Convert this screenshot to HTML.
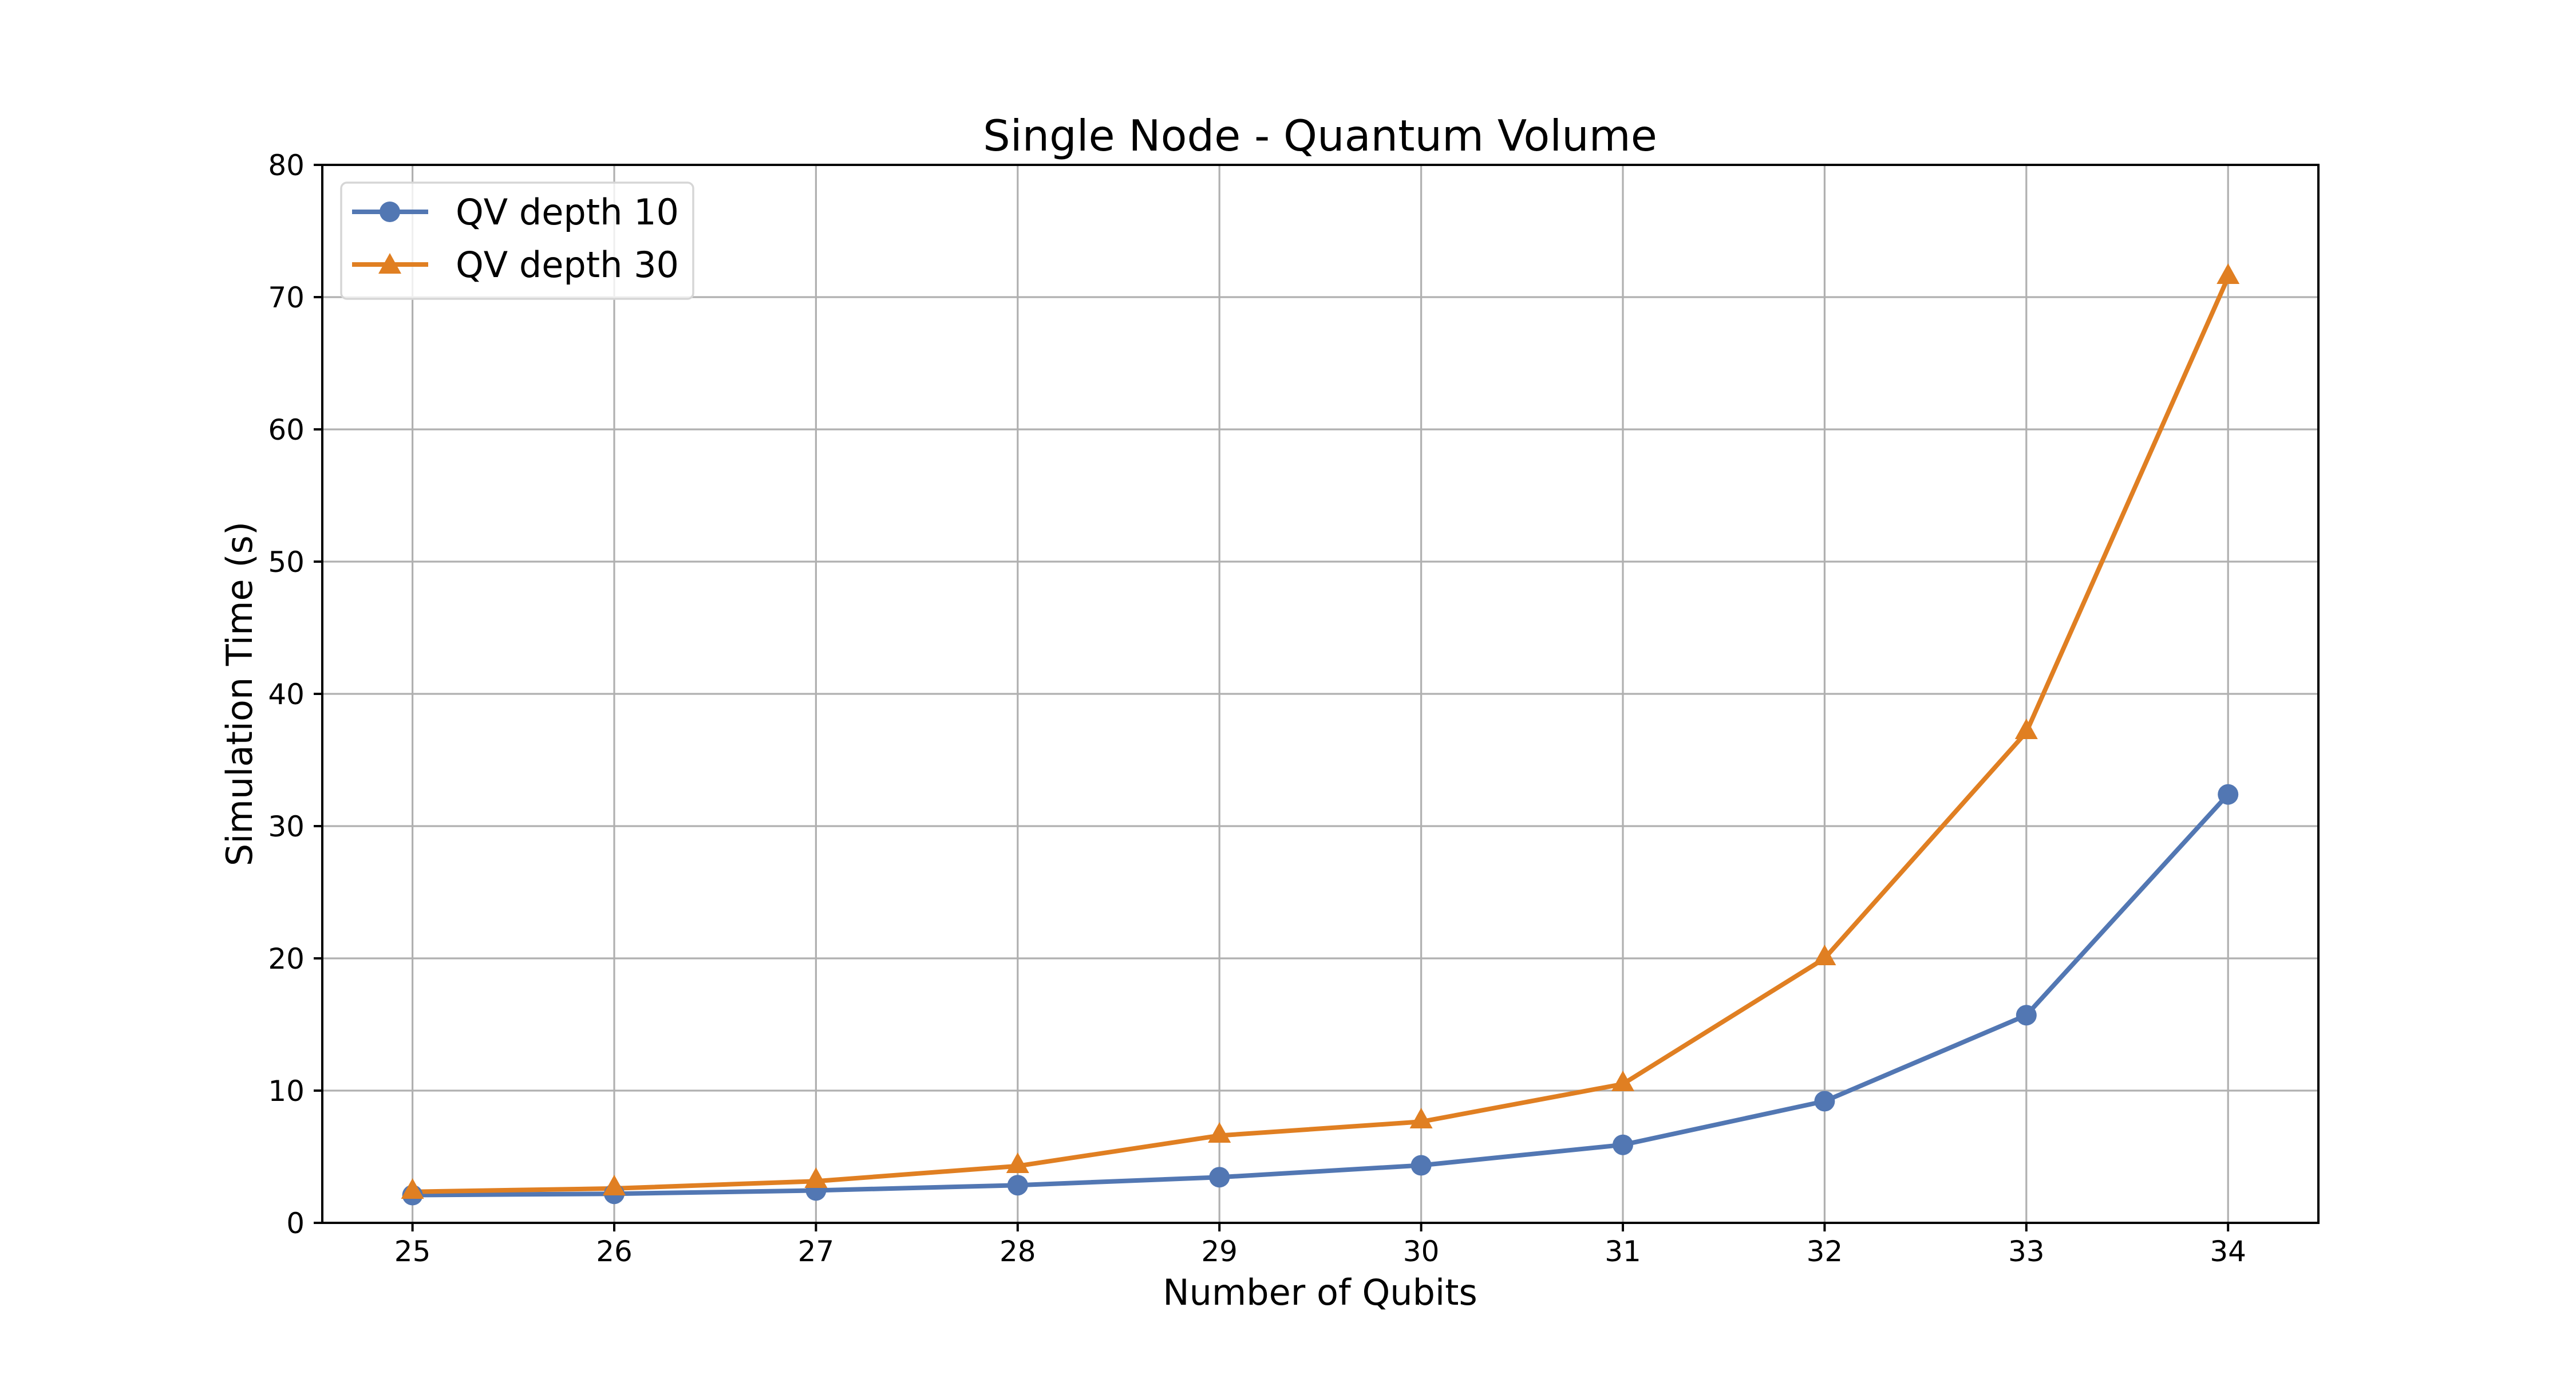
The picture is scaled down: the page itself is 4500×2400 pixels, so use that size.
<!DOCTYPE html>
<html><head><meta charset="utf-8"><style>html,body{margin:0;padding:0;background:#fff}svg{display:block}</style></head>
<body>
<svg width="4500" height="2400" viewBox="0 0 4500 2400" xmlns="http://www.w3.org/2000/svg" font-family="'DejaVu Sans','Liberation Sans',sans-serif">
<rect width="4500" height="2400" fill="#fff"/>
<g stroke="#b0b0b0" stroke-width="3.2">
<line x1="720.6" y1="288" x2="720.6" y2="2136"/><line x1="1073" y1="288" x2="1073" y2="2136"/><line x1="1425.4" y1="288" x2="1425.4" y2="2136"/><line x1="1777.8" y1="288" x2="1777.8" y2="2136"/><line x1="2130.2" y1="288" x2="2130.2" y2="2136"/><line x1="2482.6" y1="288" x2="2482.6" y2="2136"/><line x1="2835" y1="288" x2="2835" y2="2136"/><line x1="3187.4" y1="288" x2="3187.4" y2="2136"/><line x1="3539.8" y1="288" x2="3539.8" y2="2136"/><line x1="3892.2" y1="288" x2="3892.2" y2="2136"/>
<line x1="563" y1="1905" x2="4050" y2="1905"/><line x1="563" y1="1674" x2="4050" y2="1674"/><line x1="563" y1="1443" x2="4050" y2="1443"/><line x1="563" y1="1212" x2="4050" y2="1212"/><line x1="563" y1="981" x2="4050" y2="981"/><line x1="563" y1="750" x2="4050" y2="750"/><line x1="563" y1="519" x2="4050" y2="519"/>
</g>
<polyline fill="none" stroke="#5277b3" stroke-width="8" stroke-linejoin="round" points="720.6,2087.5 1073,2085.2 1425.4,2079.4 1777.8,2070.2 2130.2,2056.3 2482.6,2035.5 2835,1999.7 3187.4,1923.5 3539.8,1773.3 3892.2,1387.6"/>
<polyline fill="none" stroke="#e07f22" stroke-width="8" stroke-linejoin="round" points="720.6,2081.7 1073,2075.9 1425.4,2063.2 1777.8,2036.7 2130.2,1983.5 2482.6,1959.3 2835,1893.5 3187.4,1674 3539.8,1279 3892.2,484.4"/>
<g fill="#5277b3">
<circle cx="720.6" cy="2087.5" r="18"/><circle cx="1073" cy="2085.2" r="18"/><circle cx="1425.4" cy="2079.4" r="18"/><circle cx="1777.8" cy="2070.2" r="18"/><circle cx="2130.2" cy="2056.3" r="18"/><circle cx="2482.6" cy="2035.5" r="18"/><circle cx="2835" cy="1999.7" r="18"/><circle cx="3187.4" cy="1923.5" r="18"/><circle cx="3539.8" cy="1773.3" r="18"/><circle cx="3892.2" cy="1387.6" r="18"/>
</g>
<g fill="#e07f22">
<path d="M720.6,2058l20,36h-40z"/><path d="M1073,2052l20,36h-40z"/><path d="M1425.4,2039l20,36h-40z"/><path d="M1777.8,2013l20,36h-40z"/><path d="M2130.2,1960l20,36h-40z"/><path d="M2482.6,1935l20,36h-40z"/><path d="M2835,1870l20,36h-40z"/><path d="M3187.4,1650l20,36h-40z"/><path d="M3539.8,1255l20,36h-40z"/><path d="M3892.2,460l20,36h-40z"/>
</g>
<rect x="563" y="288" width="3487" height="1848" fill="none" stroke="#000" stroke-width="4"/>
<g stroke="#000" stroke-width="4">
<line x1="720.6" y1="2136" x2="720.6" y2="2151"/><line x1="1073" y1="2136" x2="1073" y2="2151"/><line x1="1425.4" y1="2136" x2="1425.4" y2="2151"/><line x1="1777.8" y1="2136" x2="1777.8" y2="2151"/><line x1="2130.2" y1="2136" x2="2130.2" y2="2151"/><line x1="2482.6" y1="2136" x2="2482.6" y2="2151"/><line x1="2835" y1="2136" x2="2835" y2="2151"/><line x1="3187.4" y1="2136" x2="3187.4" y2="2151"/><line x1="3539.8" y1="2136" x2="3539.8" y2="2151"/><line x1="3892.2" y1="2136" x2="3892.2" y2="2151"/>
<line x1="548" y1="2136" x2="563" y2="2136"/><line x1="548" y1="1905" x2="563" y2="1905"/><line x1="548" y1="1674" x2="563" y2="1674"/><line x1="548" y1="1443" x2="563" y2="1443"/><line x1="548" y1="1212" x2="563" y2="1212"/><line x1="548" y1="981" x2="563" y2="981"/><line x1="548" y1="750" x2="563" y2="750"/><line x1="548" y1="519" x2="563" y2="519"/><line x1="548" y1="288" x2="563" y2="288"/>
</g>
<g font-size="50" fill="#000" text-anchor="middle">
<text x="720.6" y="2203">25</text><text x="1073" y="2203">26</text><text x="1425.4" y="2203">27</text><text x="1777.8" y="2203">28</text><text x="2130.2" y="2203">29</text><text x="2482.6" y="2203">30</text><text x="2835" y="2203">31</text><text x="3187.4" y="2203">32</text><text x="3539.8" y="2203">33</text><text x="3892.2" y="2203">34</text>
</g>
<g font-size="50" fill="#000" text-anchor="end">
<text x="532" y="2154">0</text><text x="532" y="1923">10</text><text x="532" y="1692">20</text><text x="532" y="1461">30</text><text x="532" y="1230">40</text><text x="532" y="999">50</text><text x="532" y="768">60</text><text x="532" y="537">70</text><text x="532" y="306">80</text>
</g>
<text x="2306" y="263" font-size="75" text-anchor="middle">Single Node - Quantum Volume</text>
<text x="2306" y="2279" font-size="62" text-anchor="middle">Number of Qubits</text>
<text transform="translate(440,1212) rotate(-90)" font-size="62" text-anchor="middle">Simulation Time (s)</text>
<rect x="596" y="319" width="615" height="203" rx="10" fill="#fff" fill-opacity="0.8" stroke="#d6d6d6" stroke-width="3.5"/>
<line x1="615" y1="370" x2="748" y2="370" stroke="#5277b3" stroke-width="8"/>
<circle cx="681" cy="370" r="18" fill="#5277b3"/>
<line x1="615" y1="462" x2="748" y2="462" stroke="#e07f22" stroke-width="8"/>
<path d="M681,442l20,36h-40z" fill="#e07f22"/>
<text x="796" y="392" font-size="62">QV depth 10</text>
<text x="796" y="484" font-size="62">QV depth 30</text>
</svg>
</body></html>
